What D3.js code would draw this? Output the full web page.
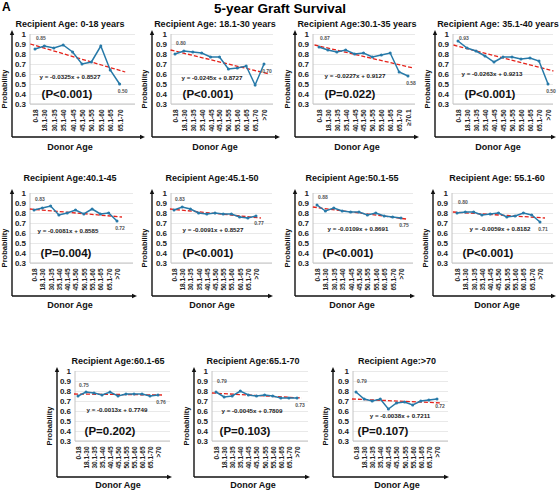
<!DOCTYPE html>
<html><head><meta charset="utf-8">
<script src="https://cdn.jsdelivr.net/npm/d3@7"></script>
<style>body{margin:0;background:#fff}svg{display:block;font-family:"Liberation Sans",Arial,sans-serif}</style>
</head><body><svg id="c" width="560" height="491"></svg>
<script>
// ---------- DATA ----------
const mainTitle = "5-year Graft Survival";
const panelLetter = "A";
const recipientTitles = ["Recipient Age: 0-18 years","Recipient Age: 18.1-30 years","Recipient Age:30.1-35 years","Recipient Age: 35.1-40 years",
  "Recipient Age:40.1-45","Recipient Age:45.1-50","Recipient Age:50.1-55","Recipient Age: 55.1-60",
  "Recipient Age:60.1-65","Recipient Age:65.1-70","Recipient Age:>70"];
const donorAges = ["0-18","18.1-30","30.1-35","35.1-40","40.1-45","45.1-50","50.1-55","55.1-60","60.1-65","65.1-70"];
const oldestDonorLabel = [null,">70","\u226570.1",">70",">70",">70",">70",">70",">70",">70",">70"];
const yTicks = [1,0.9,0.8,0.7,0.6,0.5,0.4,0.3];

const surv_0_18   = [0.85,0.88,0.86,0.89,0.82,0.70,0.72,0.88,0.64,0.50];
const surv_18_30  = [0.80,0.83,0.82,0.81,0.77,0.77,0.65,0.66,0.68,0.49,0.70];
const surv_30_35  = [0.87,0.84,0.82,0.84,0.80,0.81,0.77,0.79,0.81,0.62,0.58];
const surv_35_40  = [0.93,0.86,0.83,0.78,0.72,0.77,0.77,0.75,0.76,0.73,0.50];
const surv_40_45  = [0.83,0.85,0.87,0.78,0.80,0.83,0.79,0.84,0.79,0.80,0.72];
const surv_45_50  = [0.83,0.86,0.84,0.80,0.79,0.80,0.79,0.79,0.76,0.75,0.77];
const surv_50_55  = [0.88,0.82,0.85,0.82,0.81,0.81,0.78,0.80,0.77,0.76,0.75];
const surv_55_60  = [0.80,0.81,0.81,0.78,0.79,0.80,0.76,0.77,0.80,0.78,0.71];
const surv_60_65  = [0.75,0.79,0.78,0.76,0.79,0.75,0.77,0.77,0.77,0.75,0.76];
const surv_65_70  = [0.79,0.74,0.75,0.80,0.76,0.75,0.76,0.75,0.73,0.73,0.73];
const surv_gt70   = [0.79,0.72,0.70,0.72,0.62,0.68,0.69,0.66,0.70,0.71,0.72];
const survival = [surv_0_18,surv_18_30,surv_30_35,surv_35_40,surv_40_45,surv_45_50,surv_50_55,surv_55_60,surv_60_65,surv_65_70,surv_gt70];

const trendStart = [0.90,0.84,0.89,0.89,0.84,0.84,0.86,0.81,0.77,0.78,0.72];
const trendEnd   = [0.62,0.60,0.66,0.63,0.76,0.75,0.74,0.75,0.76,0.73,0.68];
const equations = ["y = -0.0325x + 0.8527","y = -0.0245x + 0.8727","y = -0.0227x + 0.9127","y = -0.0263x + 0.9213",
  "y = -0.0081x + 0.8585","y = -0.0091x + 0.8527","y = -0.0109x + 0.8691","y = -0.0059x + 0.8182",
  "y = -0.0013x + 0.7749","y = -0.0045x + 0.7809","y = -0.0038x + 0.7211"];
const pValues = ["(P<0.001)","(P<0.001)","(P=0.022)","(P<0.001)","(P=0.004)","(P<0.001)","(P<0.001)","(P<0.001)","(P=0.202)","(P=0.103)","(P=0.107)"];

// ---------- LAYOUT ----------
const rows = [{top:34, arrowY:137, titleY:27, donorY:150},{top:193, arrowY:296, titleY:181, donorY:308},{top:371, arrowY:477, titleY:364, donorY:488}];
const layout = [
  {ax:12, bl:30, x0:35, dx:9.4, br:135, ae:145, row:0, tx:70, ex:70, ey:45, px:67},
  {ax:152,bl:171,x0:175,dx:8.9, br:273, ae:280, row:0, tx:215,ex:212,ey:46, px:208},
  {ax:295,bl:313,x0:319,dx:8.9, br:415, ae:419, row:0, tx:357,ex:355,ey:44, px:350},
  {ax:435,bl:453,x0:458,dx:9.0, br:553, ae:556, row:0, tx:498,ex:492,ey:42, px:490},
  {ax:12, bl:30, x0:34, dx:8.3, br:133, ae:137, row:1, tx:70, ex:68, ey:40, px:66},
  {ax:152,bl:171,x0:174,dx:8.2, br:272, ae:273, row:1, tx:212,ex:213,ey:39, px:208},
  {ax:295,bl:313,x0:317,dx:8.4, br:413, ae:415, row:1, tx:352,ex:358,ey:38, px:348},
  {ax:433,bl:452,x0:457,dx:8.3, br:553, ae:556, row:1, tx:497,ex:500,ey:38, px:488},
  {ax:57, bl:75, x0:78, dx:8.0, br:170, ae:172, row:2, tx:118,ex:117,ey:41, px:110},
  {ax:194,bl:212,x0:216,dx:8.1, br:308, ae:310, row:2, tx:253,ex:252,ey:42, px:245},
  {ax:333,bl:353,x0:356,dx:8.1, br:448, ae:449, row:2, tx:397,ex:400,ey:47, px:383}
];

const lineColor = "#2779a8", trendColor = "#e5231b", gridColor = "#e3e3e3", boxColor = "#c4c4c4";

const svg = d3.select("#c");
svg.append("text").attr("x",2).attr("y",11).attr("font-size",12).attr("font-weight","bold").text(panelLetter);
svg.append("text").attr("x",280).attr("y",13).attr("text-anchor","middle").attr("font-size",13.5).attr("font-weight","bold").text(mainTitle);

layout.forEach((L,i) => {
  const R = rows[L.row];
  const vals = survival[i];
  const cats = oldestDonorLabel[i] ? donorAges.concat([oldestDonorLabel[i]]) : donorAges.slice();
  const n = cats.length;
  const bottom = R.top + 70;
  const y = d3.scaleLinear().domain([0.3,1]).range([bottom, R.top]);
  const x = d3.scalePoint().domain(cats).range([L.x0, L.x0 + L.dx*(n-1)]);
  const g = svg.append("g");

  g.append("g").attr("transform",`translate(${L.bl},0)`)
    .call(d3.axisLeft(y).tickValues(yTicks).tickSize(-(L.br-L.bl)).tickFormat(""))
    .call(a=>a.select(".domain").remove())
    .call(a=>a.selectAll("line").attr("stroke",gridColor).attr("stroke-width",0.8));
  g.append("line").attr("x1",L.bl).attr("x2",L.bl).attr("y1",R.top).attr("y2",bottom).attr("stroke",boxColor).attr("stroke-width",1);
  g.append("line").attr("x1",L.bl).attr("x2",L.br).attr("y1",bottom).attr("y2",bottom).attr("stroke",boxColor).attr("stroke-width",1.2);

  g.append("g").attr("transform",`translate(${L.bl},0)`)
    .call(d3.axisLeft(y).tickValues(yTicks).tickSize(0).tickPadding(4).tickFormat(d=> d===1?"1":d3.format(".1f")(d)))
    .call(a=>a.select(".domain").remove())
    .call(a=>a.selectAll("text").attr("font-size",8).attr("font-weight","bold").attr("fill","#222").attr("font-family",null));

  const xa = g.append("g").attr("transform",`translate(0,${bottom})`)
    .call(d3.axisBottom(x).tickSize(0).tickPadding(0));
  xa.select(".domain").remove();
  xa.selectAll("text").attr("font-size",6.5).attr("font-weight","bold").attr("fill","#222").attr("font-family",null)
    .attr("text-anchor","end").attr("dy",null).attr("y",0)
    .attr("transform","translate(2.4,5.5) rotate(-90)");

  const xs = x(cats[0]) - L.dx*0.5, xe = x(cats[n-1]) + L.dx*0.6;
  g.append("line").attr("x1",xs).attr("x2",xe).attr("y1",y(trendStart[i])).attr("y2",y(trendEnd[i]))
    .attr("stroke",trendColor).attr("stroke-width",1.3).attr("stroke-dasharray","4,2");

  const line = d3.line().x((d,j)=>x(cats[j])).y(d=>y(d));
  g.append("path").datum(vals).attr("d",line).attr("fill","none").attr("stroke",lineColor).attr("stroke-width",1.5);
  g.selectAll("circle").data(vals).join("circle").attr("cx",(d,j)=>x(cats[j])).attr("cy",d=>y(d)).attr("r",1.5).attr("fill",lineColor);

  g.append("text").attr("x",x(cats[0])+1).attr("y",Math.max(R.top+6, y(vals[0])-9)).attr("font-size",5).attr("fill","#555").attr("font-weight","bold").text(d3.format(".2f")(vals[0]));
  g.append("text").attr("x",x(cats[n-1])+3).attr("y",y(vals[n-1])+9).attr("text-anchor","middle").attr("font-size",5).attr("fill","#555").attr("font-weight","bold").text(d3.format(".2f")(vals[n-1]));

  g.append("text").attr("x",L.ex).attr("y",R.top+L.ey).attr("text-anchor","middle").attr("font-size",6.2).attr("font-weight","bold").attr("fill","#222").text(equations[i]);
  g.append("text").attr("x",L.px).attr("y",R.top+64).attr("text-anchor","middle").attr("font-size",11.5).attr("font-weight","bold").attr("fill","#111").text(pValues[i]);

  g.append("text").attr("x",L.tx).attr("y",R.titleY).attr("text-anchor","middle").attr("font-size",9).attr("font-weight","bold").attr("fill","#111").text(recipientTitles[i]);

  const tipY = R.top-4;
  g.append("line").attr("x1",L.ax).attr("x2",L.ax).attr("y1",tipY+3).attr("y2",R.arrowY).attr("stroke","#111").attr("stroke-width",1.4);
  g.append("line").attr("x1",L.ax).attr("x2",L.ae-3).attr("y1",R.arrowY).attr("y2",R.arrowY).attr("stroke","#111").attr("stroke-width",1.4);
  g.append("path").attr("d",`M${L.ax},${tipY} L${L.ax-2.2},${tipY+5} L${L.ax+2.2},${tipY+5} Z`).attr("fill","#111");
  g.append("path").attr("d",`M${L.ae},${R.arrowY} L${L.ae-5},${R.arrowY-2.2} L${L.ae-5},${R.arrowY+2.2} Z`).attr("fill","#111");

  g.append("text").attr("transform",`translate(${L.ax-5},${R.top+55}) rotate(-90)`).attr("text-anchor","middle")
    .attr("font-size",7.5).attr("font-weight","bold").attr("fill","#111").text("Probability");
  g.append("text").attr("x",L.tx).attr("y",R.donorY).attr("text-anchor","middle").attr("font-size",9).attr("font-weight","bold").attr("fill","#111").text("Donor Age");
});
</script></body></html>
